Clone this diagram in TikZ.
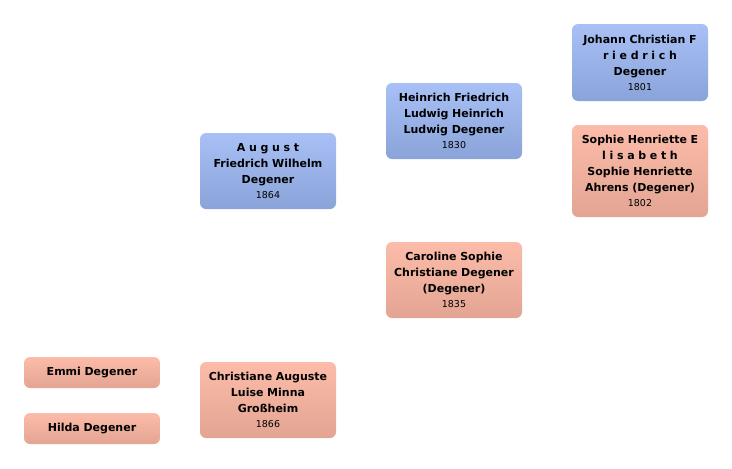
\documentclass[tikz,border=0pt]{standalone}
\usepackage{fontspec}
\setmainfont{DejaVu Sans}
\usetikzlibrary{positioning}

\definecolor{maletop}{HTML}{A8C0F6}
\definecolor{malebot}{HTML}{8AA3D8}
\definecolor{femtop}{HTML}{FCBCA9}
\definecolor{fembot}{HTML}{E3A493}

\newcommand{\yr}[1]{\\[-1pt]{\fontsize{9.5}{12}\selectfont\mdseries #1}}

\begin{document}
\begin{tikzpicture}[
  x=1pt, y=-1pt,
  person/.style={rectangle, rounded corners=6pt, minimum width=136pt, text width=132pt,
    align=center, inner sep=2pt, font=\fontsize{11}{16}\selectfont\bfseries},
  male/.style={person, top color=maletop, bottom color=malebot},
  female/.style={person, top color=femtop, bottom color=fembot}
]
\useasboundingbox (0,0) rectangle (732,469);

% generation 3
\node[male, minimum height=77pt] (johann) at (640,62.5)
  {Johann Christian F\\r i e d r i c h\\Degener\yr{1801}};
\node[female, minimum height=92pt] (sophie) at (640,171)
  {Sophie Henriette E\\l i s a b e t h\\Sophie Henriette\\Ahrens (Degener)\yr{1802}};

% generation 2
\node[male, minimum height=76pt] (heinrich) at (454,121)
  {Heinrich Friedrich\\Ludwig Heinrich\\Ludwig Degener\yr{1830}};
\node[female, minimum height=76pt] (caroline) at (454,280)
  {Caroline Sophie\\Christiane Degener\\(Degener)\yr{1835}};

% generation 1
\node[male, minimum height=76pt] (august) at (268,171)
  {A u g u s t\\Friedrich Wilhelm\\Degener\yr{1864}};
\node[female, minimum height=76pt] (christiane) at (268,400)
  {Christiane Auguste\\Luise Minna\\Großheim\yr{1866}};

% children
\node[female, minimum height=31pt] (emmi) at (92,372.5) {Emmi Degener};
\node[female, minimum height=31pt] (hilda) at (92,428.5) {Hilda Degener};
\end{tikzpicture}
\end{document}
